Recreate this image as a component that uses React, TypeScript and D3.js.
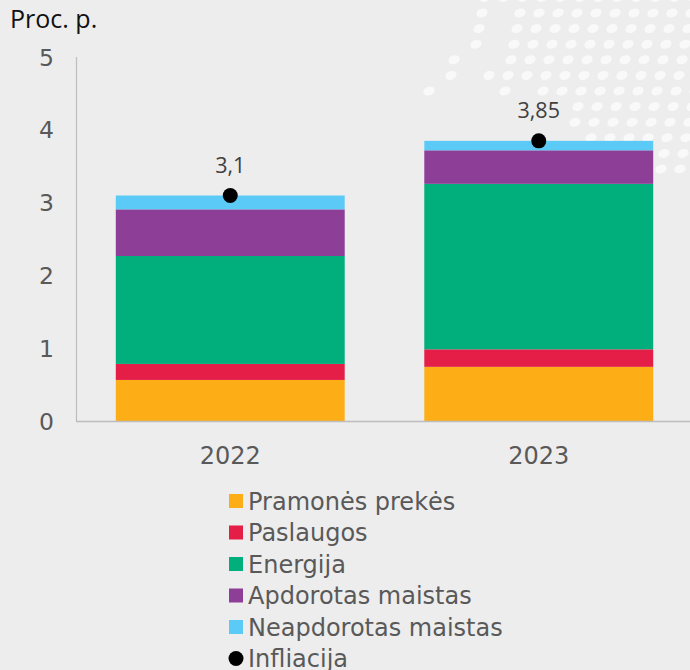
import React from "react";
import * as d3 from "d3";

const years = ["2022", "2023"];
const seriesNames = ["Pramonės prekės", "Paslaugos", "Energija", "Apdorotas maistas", "Neapdorotas maistas"];
const seriesColors = ["#FDAE17", "#E41E47", "#00AF7C", "#8D3E96", "#5CCAF6"];
const pramones = [0.57, 0.75];
const paslaugos = [0.22, 0.24];
const energija = [1.48, 2.27];
const apdorotas = [0.64, 0.46];
const neapdorotas = [0.19, 0.13];
const infliacija = [3.1, 3.85];
const infliacijaLabels = ["3,1", "3,85"];
const yTicks = [0, 1, 2, 3, 4, 5];
const legendNames = [...seriesNames, "Infliacija"];

// decorative background dot pattern (rows: y index, first column, extra isolated columns)
const dotRows: [number, number, number[]][] = [
  [-1, -2, []],
  [0, 0, [-2]],
  [1, 0, [-2]],
  [2, 0, [-2]],
  [3, 0, [-3]],
  [4, 0, [-3, -1]],
  [5, 2, [-4, 0]],
  [6, 4, []],
  [7, 4, []],
  [8, 5, []],
  [9, 9, []],
  [10, 9, []],
];

const W = 690;
const H = 670;
const FONT = "'DejaVu Sans', Verdana, sans-serif";

export default function App() {
  const x = d3.scaleBand<string>().domain(years).range([76, 693]).paddingInner(0.258).paddingOuter(0.129);
  const y = d3.scaleLinear().domain([0, 5]).range([421.5, 57]);

  const rows = years.map((yr, i) => ({
    year: yr,
    "Pramonės prekės": pramones[i],
    Paslaugos: paslaugos[i],
    Energija: energija[i],
    "Apdorotas maistas": apdorotas[i],
    "Neapdorotas maistas": neapdorotas[i],
  }));
  const stacked = d3.stack<any>().keys(seriesNames)(rows);

  const dots: { cx: number; cy: number }[] = [];
  dotRows.forEach(([r, start, extras]) => {
    const cy = 13 + 15.6 * r;
    for (let k = start; 520 - 3 * r + 19 * k < W + 10; k++) {
      dots.push({ cx: 520 - 3 * r + 19 * k, cy });
    }
    extras.forEach((k) => dots.push({ cx: 520 - 3 * r + 19 * k, cy }));
  });

  const legendY = d3.scaleLinear().domain([0, 5]).range([501, 658.5]);

  return (
    <svg width={W} height={H} style={{ position: "absolute", left: 0, top: 0 }} fontFamily={FONT}>
      <rect x={0} y={0} width={W} height={H} fill="#EDEDED" />
      <g fill="#FFFFFF" opacity={0.7}>
        {dots.map((d, i) => (
          <ellipse key={i} cx={d.cx} cy={d.cy} rx={5.8} ry={4.3} transform={`rotate(-20 ${d.cx} ${d.cy})`} />
        ))}
      </g>

      <text x={10} y={28} fontFamily="'Open Sans', sans-serif" fontSize={25} fill="#111">Proc. p.</text>

      {yTicks.map((t) => (
        <text key={t} x={54} y={y(t) + 8.5} textAnchor="end" fontSize={23.5} fill="#595959">{t}</text>
      ))}

      {stacked.map((s, si) => (
        <g key={si} fill={seriesColors[si]}>
          {s.map((d, i) => (
            <rect key={i} x={x(years[i])} y={y(d[1])} width={x.bandwidth()} height={y(d[0]) - y(d[1])} />
          ))}
        </g>
      ))}

      <line x1={76.5} x2={76.5} y1={57} y2={421.5} stroke="#BDBDBD" strokeWidth={1.2} />
      <line x1={76} x2={W} y1={421.5} y2={421.5} stroke="#BDBDBD" strokeWidth={1.5} />

      {years.map((yr) => (
        <text key={yr} x={x(yr)! + x.bandwidth() / 2} y={463.5} textAnchor="middle" fontSize={24} fill="#595959">{yr}</text>
      ))}

      {infliacija.map((v, i) => (
        <g key={i}>
          <circle cx={x(years[i])! + x.bandwidth() / 2} cy={y(v)} r={7.5} fill="#000" />
          <text x={x(years[i])! + x.bandwidth() / 2} y={y(v) - 22.5} textAnchor="middle" fontFamily="'Open Sans', sans-serif" fontSize={21.5} fill="#404040">{infliacijaLabels[i]}</text>
        </g>
      ))}

      {legendNames.map((n, i) => (
        <g key={n}>
          {i < seriesNames.length ? (
            <rect x={229} y={legendY(i) - 7} width={14} height={14} fill={seriesColors[i]} />
          ) : (
            <circle cx={236} cy={legendY(i)} r={7.5} fill="#000" />
          )}
          <text x={248} y={legendY(i) + 8.5} fontSize={24} fill="#595959">{n}</text>
        </g>
      ))}
    </svg>
  );
}
